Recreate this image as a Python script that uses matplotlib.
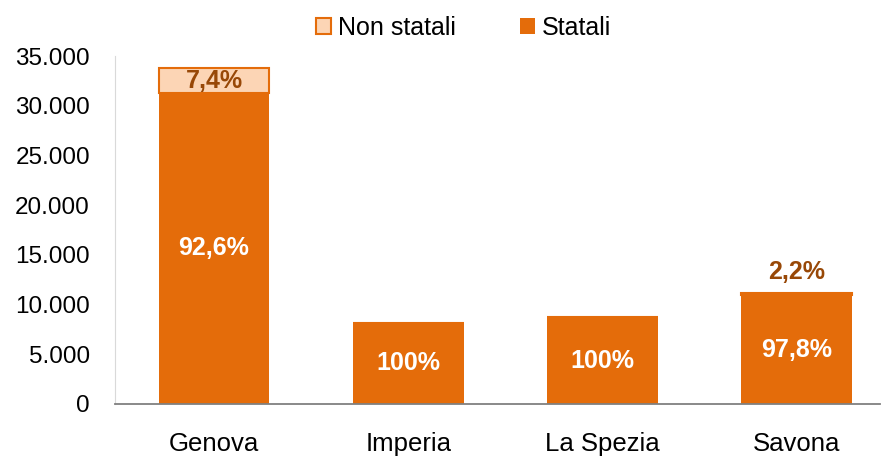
import matplotlib.pyplot as plt

plt.rcParams['font.family'] = ['Liberation Sans', 'DejaVu Sans']

province = ['Genova', 'Imperia', 'La Spezia', 'Savona']
statali = [31280, 8150, 8750, 10920]
non_statali = [2510, 0, 0, 245]
lab_statali = ['92,6%', '100%', '100%', '97,8%']
lab_non = ['7,4%', '', '', '2,2%']

arancio = '#E46C0A'
pesca = '#FCD5B5'
marrone = '#984807'

fig = plt.figure(figsize=(8.83, 4.58), dpi=100)
ax = fig.add_axes([115 / 883, 54 / 458, 765 / 883, 348 / 458])

x = range(len(province))
ax.bar(x, statali, width=0.57, color=arancio, label='Statali', zorder=2)
ax.bar(x, non_statali, width=0.57, bottom=statali, color=pesca,
       edgecolor=arancio, linewidth=1.5, label='Non statali', zorder=2)

for i in x:
    ax.text(i, statali[i] / 2, lab_statali[i], ha='center', va='center',
            color='white', fontsize=18, fontweight='bold')
    if lab_non[i]:
        if non_statali[i] > 1000:
            y = statali[i] + non_statali[i] / 2
        else:
            y = statali[i] + non_statali[i] + 2100
        ax.text(i, y, lab_non[i], ha='center', va='center',
                color=marrone, fontsize=18, fontweight='bold')

ax.set_xlim(-0.51, 3.43)
ax.set_ylim(0, 35000)
ax.set_yticks(range(0, 35001, 5000))
ax.set_yticklabels(['0'] + [f'{v:,}'.replace(',', '.') for v in range(5000, 35001, 5000)])
ax.set_xticks(list(x))
ax.set_xticklabels(province)
ax.tick_params(axis='y', length=0, pad=18, labelsize=17.5)
ax.tick_params(axis='x', length=0, pad=20, labelsize=18.5)

ax.spines['top'].set_visible(False)
ax.spines['right'].set_visible(False)
ax.spines['left'].set_color('#D9D9D9')
ax.spines['bottom'].set_color('#808080')
ax.spines['bottom'].set_linewidth(1.3)

h, l = ax.get_legend_handles_labels()
fig.legend(h[::-1], l[::-1], loc='upper center', bbox_to_anchor=(0.525, 1.015),
           ncol=2, frameon=False, fontsize=18, handlelength=0.6,
           handleheight=0.6, handletextpad=0.25, columnspacing=2.6)

fig.savefig('out.png', dpi=100)
